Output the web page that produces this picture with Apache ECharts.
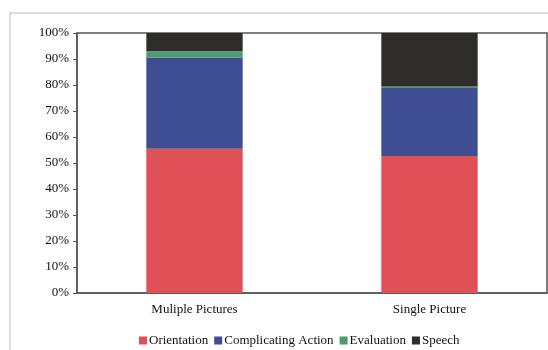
<!DOCTYPE html>
<html>
<head>
<meta charset="utf-8">
<script src="https://cdn.jsdelivr.net/npm/echarts@6/dist/echarts.min.js"></script>
<style>
  html, body { margin: 0; padding: 0; background: #fff; }
  #chart { width: 548px; height: 350px; }
</style>
</head>
<body>
<div id="chart"></div>
<script>
// Share of narrative clause types per picture condition (percent of total)
const categories = ['Muliple Pictures', 'Single Picture'];
const orientation = [55.5, 52.7];
const complicatingAction = [35.0, 26.1];
const evaluation = [2.5, 0.6];
const speech = [7.0, 20.6];
const seriesNames = ['Orientation', 'Complicating Action', 'Evaluation', 'Speech'];
const seriesColors = ['#df5157', '#3f4d92', '#4f9a6e', '#302c2c'];

const textFont = '"Liberation Serif", "DejaVu Serif", serif';
const seriesData = [orientation, complicatingAction, evaluation, speech];

const chart = echarts.init(document.getElementById('chart'), null, { renderer: 'canvas' });
chart.setOption({
  animation: false,
  backgroundColor: '#fff',
  graphic: [{
    type: 'rect',
    shape: { x: 10, y: 13, width: 560, height: 360 },
    style: { fill: 'none', stroke: '#bbb', lineWidth: 1 },
    silent: true
  }],
  grid: {
    left: 77, right: 1, top: 33, bottom: 57,
    show: true, borderColor: '#555', borderWidth: 1.5, backgroundColor: 'transparent'
  },
  legend: {
    top: 329, left: 134,
    itemWidth: 8, itemHeight: 8, itemGap: 6,
    icon: 'rect',
    textStyle: { fontFamily: textFont, fontSize: 13, color: '#111', padding: [0, 0, 0, -3] },
    data: seriesNames
  },
  xAxis: {
    type: 'category',
    data: categories,
    axisLine: { lineStyle: { color: '#555', width: 1.5 } },
    axisTick: { show: false },
    axisLabel: { fontFamily: textFont, fontSize: 13, color: '#111', margin: 10 }
  },
  yAxis: {
    type: 'value',
    min: 0, max: 100, interval: 10,
    splitLine: { show: false },
    axisLine: { show: true, lineStyle: { color: '#555', width: 1.5 } },
    axisTick: { show: true, length: 4, lineStyle: { color: '#555' } },
    axisLabel: { fontFamily: textFont, fontSize: 13, color: '#111', margin: 8, formatter: '{value}%' }
  },
  series: seriesNames.map((name, i) => ({
    name: name,
    type: 'bar',
    stack: 'total',
    barWidth: '41%',
    itemStyle: { color: seriesColors[i] },
    data: seriesData[i]
  }))
});
</script>
</body>
</html>
